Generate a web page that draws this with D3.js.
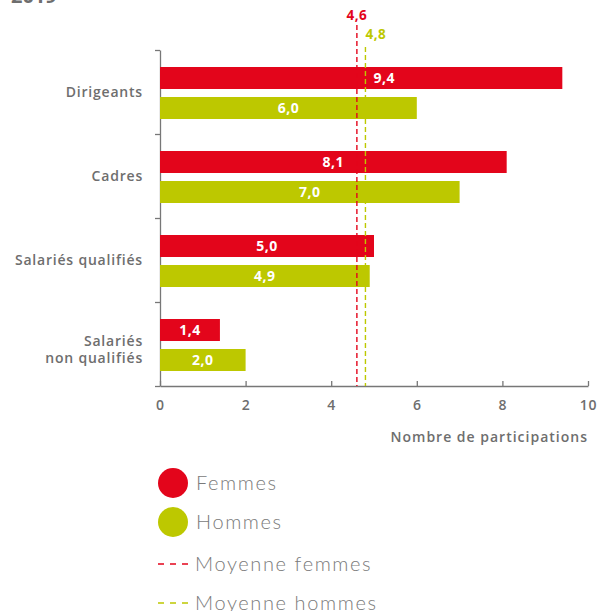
<!DOCTYPE html>
<html>
<head>
<meta charset="utf-8">
<script src="https://cdn.jsdelivr.net/npm/d3@7"></script>
<style>
  body { margin: 0; background: #fff; }
  svg { display: block; font-family: "Open Sans", Lato, sans-serif; }
</style>
</head>
<body>
<svg id="chart"></svg>
<script>
let categories = ['Dirigeants', 'Cadres', 'Salariés qualifiés', 'Salariés non qualifiés'];
let categoryLines = [['Dirigeants'], ['Cadres'], ['Salariés qualifiés'], ['Salariés', 'non qualifiés']];
let femmes = [9.4, 8.1, 5.0, 1.4];
let hommes = [6.0, 7.0, 4.9, 2.0];
let moyenneFemmes = 4.6;
let moyenneHommes = 4.8;
let xTicks = [0, 2, 4, 6, 8, 10];

let width = 601;
let height = 611;
let red = '#e3051b';
let green = '#bdc800';
let grey = '#6e6e6e';
let fmt = v => d3.format('.1f')(v).replace('.', ',');

let svg = d3.select('#chart').attr('width', width).attr('height', height);

let xScale = d3.scaleLinear().domain([0, 10]).range([160, 588]);
let yScale = d3.scaleBand().domain(categories).range([50, 386]);
let subScale = d3.scaleBand().domain(['Femmes', 'Hommes']).range([17, 69]).paddingInner(0.267);

// titre coupé en haut
svg.append('text').attr('x', 11).attr('y', 3)
  .attr('font-size', 20).attr('font-weight', 700).attr('fill', grey)
  .text('2019');

// axes
let xAxis = d3.axisBottom(xScale).tickValues(xTicks).tickSize(-5).tickSizeOuter(0).tickPadding(14)
  .tickFormat(d3.format('d'));
let gx = svg.append('g').attr('transform', 'translate(0,386)').call(xAxis);
gx.select('.domain').attr('stroke', '#777').attr('stroke-width', 1.3);
gx.selectAll('.tick line').attr('stroke', '#777').attr('stroke-width', 1.3);
gx.selectAll('.tick text').attr('fill', grey).attr('font-size', 14).attr('font-weight', 600)
  .attr('font-family', '"Open Sans", sans-serif').attr('letter-spacing', 0.8);

let yLin = d3.scaleLinear().domain([0, 4]).range([50, 386]);
let yAxis = d3.axisLeft(yLin).tickValues([0, 1, 2, 3, 4]).tickSize(5).tickSizeOuter(0).tickFormat('');
let gy = svg.append('g').attr('transform', 'translate(160,0)').call(yAxis);
gy.select('.domain').attr('stroke', '#777').attr('stroke-width', 1.3);
gy.selectAll('.tick line').attr('stroke', '#777').attr('stroke-width', 1.3);

svg.append('text').attr('x', 588).attr('y', 442).attr('text-anchor', 'end')
  .attr('font-size', 14).attr('font-weight', 600).attr('fill', grey).attr('letter-spacing', 1)
  .text('Nombre de participations');

// libellés catégories
categories.forEach((c, i) => {
  let lines = categoryLines[i];
  let cy = yScale(c) + yScale.bandwidth() / 2 + (lines.length > 1 ? 5 : 0);
  let t = svg.append('text').attr('text-anchor', 'end')
    .attr('font-size', 14).attr('font-weight', 600).attr('fill', grey).attr('letter-spacing', 0.8);
  lines.forEach((l, j) => {
    t.append('tspan').attr('x', 143)
      .attr('y', cy + 5 + (j - (lines.length - 1) / 2) * 17)
      .text(l);
  });
});

// barres
let rows = [];
categories.forEach((c, i) => {
  rows.push({ cat: c, serie: 'Femmes', value: femmes[i], color: red });
  rows.push({ cat: c, serie: 'Hommes', value: hommes[i], color: green });
});

svg.selectAll('rect.bar').data(rows).enter().append('rect')
  .attr('class', 'bar')
  .attr('x', xScale(0))
  .attr('y', d => yScale(d.cat) + subScale(d.serie))
  .attr('width', d => xScale(d.value) - xScale(0))
  .attr('height', subScale.bandwidth())
  .attr('fill', d => d.color);

// lignes de moyenne
let means = [
  { value: moyenneFemmes, color: red, top: 25, labelY: 20, anchor: 'middle', dx: 0 },
  { value: moyenneHommes, color: green, top: 47, labelY: 39, anchor: 'start', dx: 0 }
];
svg.selectAll('line.mean').data(means).enter().append('line')
  .attr('x1', d => xScale(d.value)).attr('x2', d => xScale(d.value))
  .attr('y1', d => d.top).attr('y2', 386)
  .attr('stroke', d => d.color).attr('stroke-width', 1.4)
  .attr('stroke-dasharray', '5,3');
svg.selectAll('text.mean').data(means).enter().append('text')
  .attr('x', d => xScale(d.value) + d.dx).attr('y', d => d.labelY)
  .attr('text-anchor', d => d.anchor)
  .attr('font-size', 13.5).attr('font-weight', 700).attr('fill', d => d.color).attr('letter-spacing', 0.5)
  .text(d => fmt(d.value));

// valeurs dans les barres
let isNearMeans = c => c > xScale(moyenneFemmes) - 12 && c < xScale(moyenneHommes) + 12;
svg.selectAll('text.val').data(rows).enter().append('text')
  .attr('x', d => {
    let c = (xScale(0) + xScale(d.value)) / 2;
    return isNearMeans(c) ? xScale(moyenneHommes) + 8 : c;
  })
  .attr('text-anchor', d => isNearMeans((xScale(0) + xScale(d.value)) / 2) ? 'start' : 'middle')
  .attr('y', d => yScale(d.cat) + subScale(d.serie) + subScale.bandwidth() / 2 + 5)
  .attr('font-size', 14).attr('font-weight', 700).attr('fill', '#fff').attr('letter-spacing', 0.5)
  .text(d => fmt(d.value));

// légende
let legend = [
  { label: 'Femmes', color: red, type: 'circle', y: 483 },
  { label: 'Hommes', color: green, type: 'circle', y: 522 },
  { label: 'Moyenne femmes', color: red, type: 'dash', y: 564 },
  { label: 'Moyenne hommes', color: green, type: 'dash', y: 603 }
];
legend.forEach(d => {
  if (d.type === 'circle') {
    svg.append('circle').attr('cx', 173).attr('cy', d.y).attr('r', 15).attr('fill', d.color);
  } else {
    svg.append('line').attr('x1', 158).attr('x2', 188).attr('y1', d.y).attr('y2', d.y)
      .attr('stroke', d.color).attr('stroke-width', 1.3).attr('stroke-dasharray', '6,6');
  }
  svg.append('text').attr('x', d.type === 'circle' ? 196 : 195).attr('y', d.y + 7)
    .attr('font-size', 20).attr('font-weight', 300).attr('fill', '#7a7a7a')
    .attr('font-family', 'Lato, sans-serif').attr('letter-spacing', 1.6)
    .text(d.label);
});
</script>
</body>
</html>
